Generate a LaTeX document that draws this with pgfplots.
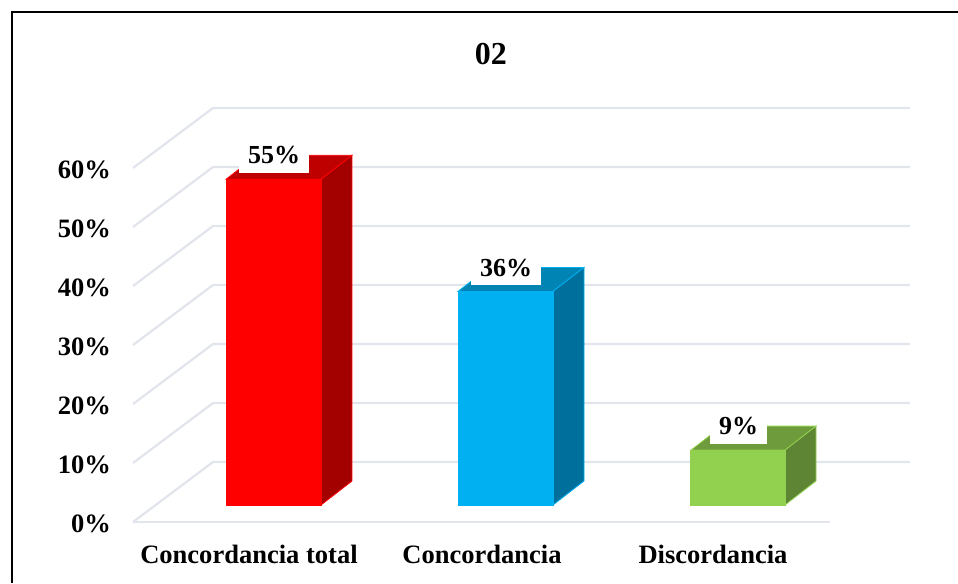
\documentclass[border=0pt]{standalone}
\usepackage{pgfplots}
\pgfplotsset{compat=1.18}
\usepackage{fontspec}
\setmainfont{Liberation Serif}
\definecolor{gridc}{HTML}{E2E5EC}
\definecolor{rtop}{HTML}{BF0000}\definecolor{rside}{HTML}{A30000}
\definecolor{btop}{HTML}{0084B4}\definecolor{bside}{HTML}{006F9C}\definecolor{bfront}{HTML}{00B0F0}
\definecolor{gtop}{HTML}{6E9C3C}\definecolor{gside}{HTML}{5E8534}\definecolor{gfront}{HTML}{92D050}
\begin{document}
\begin{tikzpicture}
\path[use as bounding box] (-99.75pt,-45.75pt) rectangle (618.75pt,391.5pt);
\begin{axis}[
  x=0.75pt,y=4.425pt,
  xmin=133,xmax=910,ymin=0,ymax=70.17,
  clip=false,
  axis line style={draw=none},
  major tick length=0pt,
  xtick={249,482,713},
  xticklabels={Concordancia total,Concordancia,Discordancia},
  ytick={0,10,20,30,40,50,60},
  yticklabels={0\%,10\%,20\%,30\%,40\%,50\%,60\%},
  tick label style={font=\fontsize{19.9}{22}\selectfont\bfseries},
  xticklabel style={yshift=-13.5pt},
  yticklabel style={xshift=-13pt,yshift=-1.6pt},
]
% floor and walls
\addplot[gridc,line width=1.7pt] coordinates {(133,0)(830,0)};
\addplot[gridc,line width=1.7pt] coordinates {(133,0)(213,10.17)(910,10.17)};
\addplot[gridc,line width=1.7pt] coordinates {(133,10)(213,20.17)(910,20.17)};
\addplot[gridc,line width=1.7pt] coordinates {(133,20)(213,30.17)(910,30.17)};
\addplot[gridc,line width=1.7pt] coordinates {(133,30)(213,40.17)(910,40.17)};
\addplot[gridc,line width=1.7pt] coordinates {(133,40)(213,50.17)(910,50.17)};
\addplot[gridc,line width=1.7pt] coordinates {(133,50)(213,60.17)(910,60.17)};
\addplot[gridc,line width=1.7pt] coordinates {(133,60)(213,70.17)(910,70.17)};
% red bar
\addplot[fill=rtop,draw=red,line width=0.6pt,yshift=12.75pt] coordinates {(226,55.2)(321,55.2)(352,59.27)(257,59.27)} -- cycle;
\addplot[fill=rside,draw=red,line width=0.6pt,yshift=12.75pt] coordinates {(321,0)(352,4.07)(352,59.27)(321,55.2)} -- cycle;
% blue bar
\addplot[fill=btop,draw=bfront,line width=0.6pt,yshift=12.75pt] coordinates {(458,36.2)(553,36.2)(584,40.27)(489,40.27)} -- cycle;
\addplot[fill=bside,draw=bfront,line width=0.6pt,yshift=12.75pt] coordinates {(553,0)(584,4.07)(584,40.27)(553,36.2)} -- cycle;
% green bar
\addplot[fill=gtop,draw=gfront,line width=0.6pt,yshift=12.75pt] coordinates {(691,9.3)(785,9.3)(816,13.37)(722,13.37)} -- cycle;
\addplot[fill=gside,draw=gfront,line width=0.6pt,yshift=12.75pt] coordinates {(785,0)(816,4.07)(816,13.37)(785,9.3)} -- cycle;
% front faces with values
\pgfplotsset{frontbar/.style={ybar,bar shift=0pt,bar width=71.25pt,yshift=12.75pt,line width=0.6pt,
  nodes near coords={\pgfmathprintnumber[fixed,precision=0,assume math mode=true]{\pgfplotspointmeta}\%},
  nodes near coords align={vertical},
  nodes near coords style={fill=white,text=black,anchor=south,xshift=0.4pt,yshift=4.2pt,inner xsep=6.5pt,inner ysep=5.5pt,
    text height=15pt,text depth=1.5pt,font=\fontsize{19.5}{22}\selectfont\bfseries}}}
\addplot[frontbar,fill=red,draw=red] coordinates {(273.5,55.2)};
\addplot[frontbar,fill=bfront,draw=bfront] coordinates {(505.5,36.2)};
\addplot[frontbar,fill=gfront,draw=gfront] coordinates {(738,9.3)};
\node[font=\fontsize{24}{26}\selectfont\bfseries,anchor=base] at (axis cs:491,77.6) {02};
\end{axis}
\draw[black,line width=1.6pt] (-90.75pt,-45.75pt) -- (-90.75pt,382.5pt) -- (618.75pt,382.5pt);
\end{tikzpicture}
\end{document}
